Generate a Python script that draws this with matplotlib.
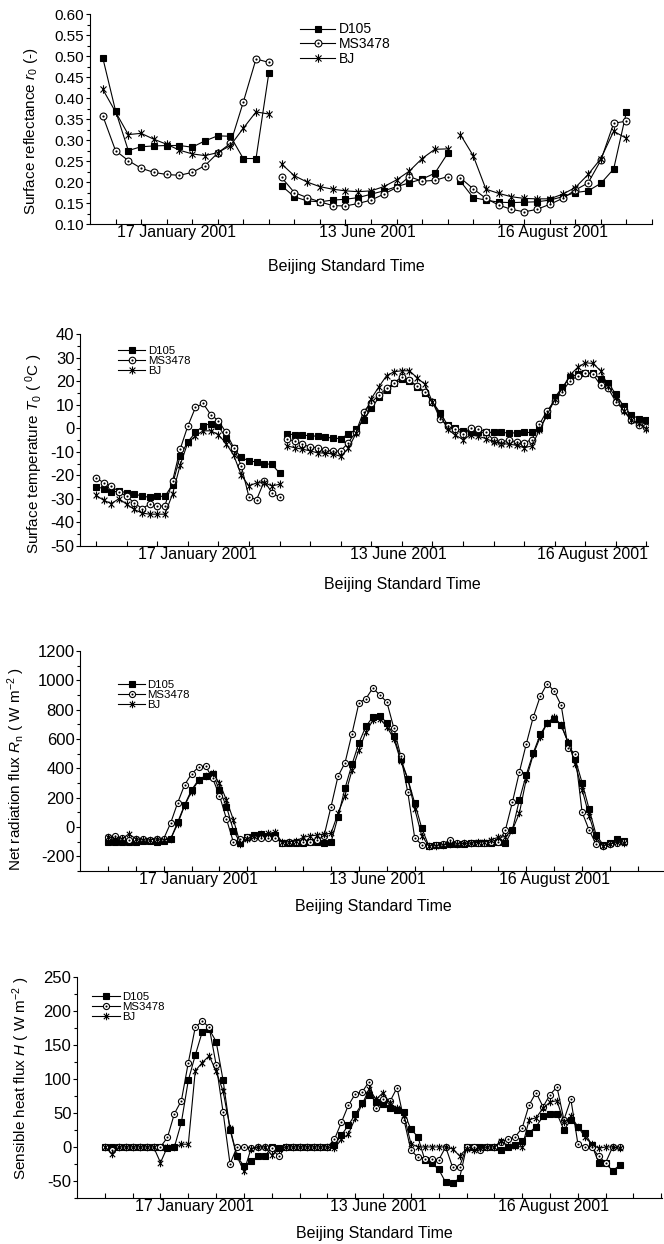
import numpy as np
import matplotlib.pyplot as plt
from matplotlib.path import Path

plt.rcParams['font.family'] = ['Liberation Sans', 'DejaVu Sans']
plt.rcParams['mathtext.fontset'] = 'custom'
plt.rcParams['mathtext.rm'] = 'Liberation Sans'
plt.rcParams['mathtext.it'] = 'Liberation Sans:italic'
plt.rcParams['axes.unicode_minus'] = False

names = ['D105', 'MS3478', 'BJ']
days = ['17 January 2001', '13 June 2001', '16 August 2001']

# surface reflectance, 14 samples per day (Jan, Jun, Aug)
refl_d105 = [0.496, 0.370, 0.275, 0.284, 0.286, 0.287, 0.287, 0.283, 0.298, 0.310, 0.309, 0.256, 0.256, 0.459,
             0.191, 0.165, 0.155, 0.153, 0.157, 0.159, 0.163, 0.171, 0.179, 0.189, 0.198, 0.207, 0.221, 0.268,
             0.202, 0.163, 0.157, 0.152, 0.151, 0.152, 0.153, 0.157, 0.165, 0.175, 0.179, 0.197, 0.231, 0.367]
refl_ms = [0.358, 0.275, 0.251, 0.233, 0.223, 0.218, 0.216, 0.223, 0.239, 0.269, 0.292, 0.390, 0.493, 0.485,
           0.211, 0.175, 0.163, 0.153, 0.144, 0.143, 0.149, 0.157, 0.171, 0.187, 0.213, 0.202, 0.204, 0.213,
           0.210, 0.184, 0.161, 0.145, 0.135, 0.129, 0.135, 0.147, 0.161, 0.181, 0.198, 0.252, 0.340, 0.345]
refl_bj = [0.421, 0.367, 0.313, 0.316, 0.302, 0.290, 0.276, 0.267, 0.263, 0.270, 0.287, 0.328, 0.367, 0.362,
           0.243, 0.215, 0.200, 0.189, 0.183, 0.179, 0.177, 0.179, 0.189, 0.205, 0.226, 0.256, 0.278, 0.279,
           0.313, 0.263, 0.183, 0.173, 0.165, 0.161, 0.160, 0.160, 0.171, 0.187, 0.218, 0.256, 0.321, 0.304]

# surface temperature: 25 hourly values in January, then 48 for June + August
temp_d105 = [-24.9, -25.6, -27.0, -26.8, -27.3, -28.0, -28.7, -29.4, -28.9, -28.9, -24.0, -11.7, -5.8,
             -1.8, 1.0, 2.0, 0.9, -4.1, -8.6, -12.4, -13.9, -14.3, -15.0, -15.4, -19.0,
             -2.5, -2.7, -2.9, -3.2, -3.4, -3.8, -4.2, -4.4, -2.5, -0.5, 3.4, 8.4, 13.1, 16.2, 19.0, 20.7,
             20.2, 17.6, 15.1, 11.2, 6.6, 1.3, -0.1, -1.1, -1.8, -1.8, -1.7, -1.8, -1.8, -2.0, -2.0, -1.8,
             -1.8, -0.1, 5.6, 13.1, 17.3, 21.6, 23.0, 23.6, 23.3, 20.9, 19.0, 14.5, 9.4, 5.6, 4.1, 3.4]
temp_ms = [-21.0, -23.2, -24.6, -27.0, -28.9, -31.7, -34.1, -32.3, -33.1, -33.0, -22.5, -8.9, 0.9,
           8.8, 10.5, 5.8, 3.2, -1.8, -8.2, -16.1, -29.2, -30.3, -22.5, -27.3, -29.4,
           -4.6, -5.5, -6.9, -7.9, -8.3, -9.3, -9.7, -9.7, -6.1, -1.5, 7.0, 10.9, 14.1, 16.9, 19.3, 21.9,
           20.4, 17.9, 15.5, 11.2, 4.1, 1.0, -0.5, -2.5, 0.2, -0.4, -1.5, -5.1, -5.8, -5.1, -5.8, -6.2,
           -4.8, 1.7, 7.4, 11.7, 15.5, 20.2, 22.1, 23.6, 22.9, 18.3, 16.9, 11.2, 7.7, 3.7, 1.3, 0.6]
temp_bj = [-28.5, -30.6, -32.0, -29.9, -32.3, -34.5, -36.0, -36.5, -36.5, -36.5, -28.0, -15.7, -6.1,
           -3.2, -1.1, -1.1, -2.7, -6.5, -11.4, -20.0, -24.5, -23.2, -23.1, -24.5, -23.8,
           -7.5, -8.3, -8.9, -9.6, -10.5, -10.5, -11.0, -11.9, -8.6, -2.2, 4.9, 12.6, 17.6, 22.3, 24.0, 24.4,
           24.4, 21.4, 18.7, 11.2, 5.6, -0.5, -2.9, -4.8, -2.9, -3.4, -4.4, -5.8, -6.5, -6.8, -7.2, -8.3,
           -7.5, -0.8, 5.6, 12.2, 16.9, 22.6, 25.8, 27.8, 27.5, 24.4, 17.9, 13.1, 7.4, 3.4, 2.3, -0.4]

# net radiation, 25 hourly values per day
rn_d105 = [-100, -100, -100, -100, -100, -95, -95, -100, -95, -81, 33, 151, 254, 322, 350, 363, 254, 140,
           -24, -109, -65, -52, -47, -59, -52,
           -110, -110, -110, -110, -105, -105, -109, -104, 71, 265, 427, 575, 687, 751, 758, 712, 619, 466,
           329, 163, -6, -127, -125, -120, -118,
           -115, -113, -110, -110, -108, -106, -104, -109, -20, 185, 358, 507, 632, 710, 740, 694, 575, 466,
           302, 124, -52, -120, -109, -81, -93]
rn_ms = [-70, -59, -75, -88, -80, -80, -90, -80, -80, 28, 165, 288, 363, 409, 416, 334, 215, 55,
         -104, -81, -65, -75, -75, -75, -75,
         -110, -105, -105, -100, -100, -90, -59, 140, 347, 438, 637, 847, 876, 949, 899, 853, 676, 484,
         238, -75, -120, -127, -125, -118, -88,
         -110, -110, -112, -110, -108, -105, -104, -20, 169, 374, 568, 751, 892, 979, 926, 830, 541, 500,
         101, -20, -116, -127, -115, -110, -105]
rn_bj = [-65, -80, -80, -47, -80, -88, -88, -80, -88, -81, 21, 147, 242, 318, 347, 368, 300, 185,
         49, -116, -81, -59, -47, -43, -36,
         -105, -100, -95, -70, -60, -55, -47, -43, 94, 215, 386, 527, 648, 728, 740, 683, 603, 450,
         329, 124, -58, -127, -127, -120, -118,
         -115, -112, -110, -105, -100, -85, -70, -65, -20, 94, 329, 496, 615, 710, 751, 694, 580, 432,
         256, 78, -75, -127, -116, -104, -111]

# sensible heat flux, 25 hourly values per day
h_d105 = [0, 0, 0, 0, 0, 0, 0, 0, 0, -2, 0, 36, 98, 135, 169, 173, 155, 98, 25, -14, -28, -21, -14, -14, 0,
          -2, 0, 0, 0, 0, 0, 0, 0, 3, 17, 32, 48, 64, 77, 66, 63, 58, 55, 51, 26, 15, -19, -24, -33, -52,
          -53, -46, 0, 0, 0, 0, 0, -5, 0, 3, 9, 21, 30, 45, 49, 49, 25, 40, 29, 21, 3, -23, -24, -35, -27]
h_ms = [0, -5, 0, 0, 0, 0, 0, 0, 0, 14, 49, 68, 124, 176, 185, 176, 121, 51, -25, 0, 0, -2, 0, 0, -2,
        -14, 0, 0, 0, 0, 0, 0, 0, 11, 36, 61, 78, 81, 96, 58, 70, 67, 87, 40, -5, -15, -17, -18, -19, 0,
        -30, -29, 0, 0, -4, 0, 0, 8, 11, 15, 28, 62, 80, 59, 77, 88, 40, 70, 5, 0, 0, -14, -23, 0, 0]
h_bj = [0, -10, 0, 0, 0, 0, 0, 0, -23, 0, 0, 4, 4, 112, 124, 134, 111, 82, 28, -14, -36, -3, 0, 0, -12,
        -3, 0, 0, 0, 0, 0, 0, 0, -2, 11, 19, 42, 63, 85, 70, 80, 64, 57, 47, 5, 0, 0, 0, 0, 0,
        -3, -13, -3, -5, -2, 0, 0, 9, 1, 1, 0, 40, 43, 57, 66, 68, 36, 45, 30, 15, 4, -2, 0, 0, -2]

circle_dot = Path.make_compound_path(Path.unit_circle(), Path.circle((0, 0), 0.16))
star = Path([(0, -1), (0, 1), (-0.72, -0.72), (0.72, 0.72), (-0.72, 0.72), (0.72, -0.72)],
            [Path.MOVETO, Path.LINETO] * 3)
styles = [dict(marker='s', mfc='k', mec='k', scale=1.0),
          dict(marker=circle_dot, mfc='w', mec='k', scale=1.1),
          dict(marker=star, mfc='none', mec='k', scale=1.35)]


def draw(ax, series, breaks, ms):
    for vals, name, st in zip(series, names, styles):
        vals = np.asarray(vals, float)
        x = np.arange(len(vals))
        for k, (a, b) in enumerate(zip(breaks[:-1], breaks[1:])):
            ax.plot(x[a:b], vals[a:b], color='k', lw=0.8, marker=st['marker'],
                    mfc=st['mfc'], mec=st['mec'], ms=ms * st['scale'], mew=0.8,
                    label=name if k == 0 else '_nolegend_')


def setup(ax, xlim, xticks, label_pos, ylim, ymajor, yminor, ylabel, ylab_xy, xlab_xy,
          ytick_fs, fmt=None):
    for s in ['top', 'right']:
        ax.spines[s].set_visible(False)
    for s in ['left', 'bottom']:
        ax.spines[s].set_linewidth(0.8)
    ax.set_xlim(xlim)
    ax.set_ylim(ylim)
    ax.set_xticks(xticks, minor=True)
    ax.set_xticks(label_pos, days)
    ax.tick_params(axis='x', which='major', length=0, labelsize=11.5, pad=1)
    ax.tick_params(axis='x', which='minor', direction='in', length=3.6, width=0.8)
    ax.set_yticks(ymajor)
    ax.set_yticks(yminor, minor=True)
    if fmt:
        ax.set_yticklabels([fmt.format(v) for v in ymajor])
    ax.tick_params(axis='y', which='major', direction='out', length=3, width=0.8,
                   labelsize=ytick_fs, pad=1)
    ax.tick_params(axis='y', which='minor', direction='out', length=2, width=0.8)
    ax.set_ylabel(ylabel, fontsize=11)
    ax.yaxis.set_label_coords(*ylab_xy)
    ax.set_xlabel('Beijing Standard Time', fontsize=11.5)
    ax.xaxis.set_label_coords(*xlab_xy)


fig = plt.figure(figsize=(6.64, 12.44), dpi=100)

ax1 = fig.add_axes([0.1355, 0.8199, 0.8464, 0.1688])
draw(ax1, [refl_d105, refl_ms, refl_bj], [0, 14, 28, 42], 4.5)
setup(ax1, (-1, 43), np.arange(1, 44, 2), [5.8, 20.7, 35.2], (0.10, 0.60),
      np.arange(0.10, 0.601, 0.05), np.arange(0.125, 0.6, 0.05),
      r'Surface reflectance $r_0$ (-)', (-0.089, 0.44), (0.456, -0.167), 11, '{:.2f}')
ax1.legend(loc='upper left', bbox_to_anchor=(0.374, 0.96), frameon=False, fontsize=10,
           handlelength=2.5, handletextpad=0.3, labelspacing=0.05, borderpad=0, borderaxespad=0)

ax2 = fig.add_axes([0.1205, 0.5611, 0.8554, 0.1704])
draw(ax2, [temp_d105, temp_ms, temp_bj], [0, 25, 73], 4.3)
setup(ax2, (-2.1, 72.2), np.arange(0, 73, 4), [13.3, 39.5, 65.0], (-50, 40),
      np.arange(-50, 41, 10), np.arange(-45, 40, 10),
      r'Surface temperature $T_0$ ( $^0$C )', (-0.062, 0.435), (0.568, -0.146), 12)
ax2.legend(loc='upper left', bbox_to_anchor=(0.067, 0.945), frameon=False, fontsize=8.2,
           handlelength=2.4, handletextpad=0.2, labelspacing=0.0, borderpad=0, borderaxespad=0)

ax3 = fig.add_axes([0.1205, 0.2998, 0.878, 0.1768])
draw(ax3, [rn_d105, rn_ms, rn_bj], [0, 75], 4.0)
setup(ax3, (-4, 79.6), np.arange(0, 80, 4), [13.0, 38.6, 64.1], (-300, 1200),
      np.arange(-200, 1201, 200), np.arange(-300, 1200, 200),
      r'Net radiation flux $R_\mathrm{n}$ ( W m$^{-2}$ )', (-0.091, 0.466), (0.504, -0.127), 12)
ax3.legend(loc='upper left', bbox_to_anchor=(0.065, 0.87), frameon=False, fontsize=8.2,
           handlelength=2.4, handletextpad=0.2, labelspacing=0.0, borderpad=0, borderaxespad=0)

ax4 = fig.add_axes([0.116, 0.037, 0.881, 0.1777])
draw(ax4, [h_d105, h_ms, h_bj], [0, 75], 4.0)
setup(ax4, (-4, 80.1), np.arange(0, 81, 4), [12.9, 39.3, 64.5], (-75, 250),
      np.arange(-50, 251, 50), np.arange(-75, 250, 50),
      r'Sensible heat flux $H$ ( W m$^{-2}$ )', (-0.077, 0.54), (0.508, -0.127), 12)
ax4.legend(loc='upper left', bbox_to_anchor=(0.026, 0.93), frameon=False, fontsize=8.2,
           handlelength=2.4, handletextpad=0.2, labelspacing=0.0, borderpad=0, borderaxespad=0)

fig.savefig('out.png', dpi=100)
